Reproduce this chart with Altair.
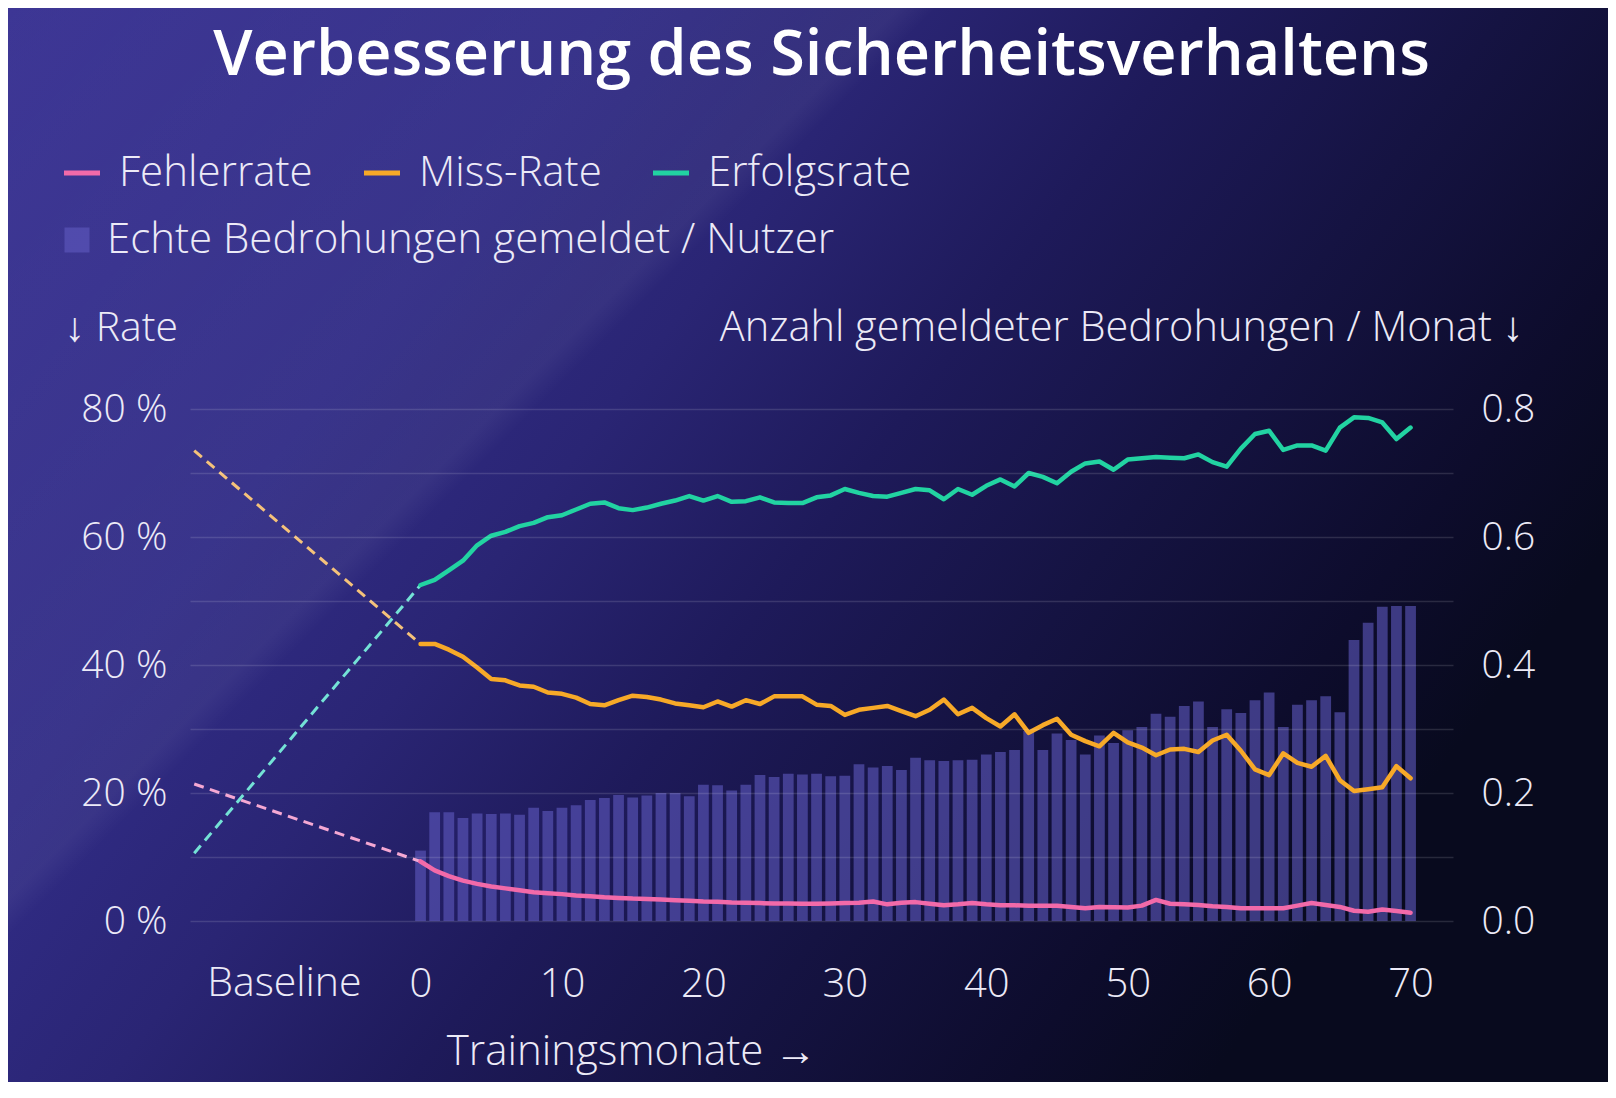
import altair as alt
import pandas as pd

# ---------------- data ----------------
MONTHS = list(range(71))
SERIES = ["Fehlerrate", "Miss-Rate", "Erfolgsrate"]
BAR_LABEL = "Echte Bedrohungen gemeldet / Nutzer"
BASELINE_LABEL = "Baseline"
BASELINE_X = -16
X_TICKS = [0, 10, 20, 30, 40, 50, 60, 70]
LEFT_TICKS = [0, 0.1, 0.2, 0.3, 0.4, 0.5, 0.6, 0.7, 0.8]
RIGHT_TICKS = [0, 0.2, 0.4, 0.6, 0.8]

# rates in percent
FEHLERRATE = [
    9.3, 7.9, 7.0, 6.3, 5.8, 5.4, 5.1, 4.8, 4.5, 4.35,
    4.2, 4.0, 3.85, 3.7, 3.6, 3.5, 3.45, 3.35, 3.25, 3.15,
    3.05, 3.0, 2.9, 2.85, 2.8, 2.75, 2.75, 2.7, 2.7, 2.75,
    2.8, 2.85, 3.05, 2.6, 2.85, 2.95, 2.7, 2.45, 2.6, 2.8,
    2.6, 2.45, 2.45, 2.4, 2.4, 2.4, 2.2, 2.0, 2.2, 2.15,
    2.1, 2.4, 3.3, 2.7, 2.6, 2.5, 2.3, 2.2, 2.0, 2.0,
    2.0, 2.0, 2.4, 2.8, 2.5, 2.2, 1.6, 1.45, 1.8, 1.55,
    1.3]
MISS_RATE = [
    43.3, 43.3, 42.4, 41.3, 39.6, 37.8, 37.6, 36.8, 36.6, 35.7,
    35.5, 34.9, 33.9, 33.7, 34.5, 35.2, 35.0, 34.6, 34.0, 33.7,
    33.4, 34.3, 33.5, 34.5, 33.9, 35.1, 35.1, 35.1, 33.8, 33.6,
    32.2, 33.0, 33.3, 33.6, 32.8, 32.0, 33.0, 34.6, 32.3, 33.3,
    31.7, 30.4, 32.3, 29.4, 30.6, 31.6, 29.1, 28.1, 27.3, 29.4,
    27.9, 27.1, 25.9, 26.8, 26.9, 26.4, 28.2, 29.1, 26.6, 23.7,
    22.8, 26.2, 24.7, 24.1, 25.8, 22.0, 20.3, 20.6, 20.9, 24.2,
    22.3]
ERFOLGSRATE = [
    52.5, 53.3, 54.8, 56.3, 58.7, 60.2, 60.8, 61.7, 62.2, 63.1,
    63.4, 64.3, 65.2, 65.4, 64.5, 64.2, 64.6, 65.2, 65.7, 66.4,
    65.7, 66.4, 65.5, 65.6, 66.2, 65.4, 65.3, 65.3, 66.2, 66.5,
    67.5, 66.9, 66.4, 66.3, 66.9, 67.5, 67.3, 65.9, 67.5, 66.6,
    68.0, 69.0, 67.9, 70.0, 69.4, 68.4, 70.2, 71.5, 71.8, 70.5,
    72.1, 72.3, 72.5, 72.4, 72.3, 72.9, 71.7, 71.0, 73.8, 76.1,
    76.6, 73.6, 74.3, 74.3, 73.5, 77.1, 78.7, 78.6, 77.9, 75.3,
    77.1]
BASELINE_VALUES = [21.4, 73.5, 10.6]   # Fehlerrate, Miss-Rate, Erfolgsrate (%)

# reported threats per user and month
BEDROHUNGEN = [
    0.110, 0.170, 0.170, 0.161, 0.168, 0.167, 0.168, 0.166, 0.177, 0.172,
    0.177, 0.181, 0.189, 0.192, 0.197, 0.193, 0.196, 0.200, 0.200, 0.195,
    0.213, 0.212, 0.204, 0.213, 0.228, 0.225, 0.230, 0.229, 0.230, 0.226,
    0.227, 0.245, 0.240, 0.242, 0.236, 0.255, 0.251, 0.250, 0.251, 0.252,
    0.260, 0.264, 0.267, 0.297, 0.267, 0.293, 0.283, 0.260, 0.290, 0.278,
    0.298, 0.303, 0.324, 0.319, 0.336, 0.343, 0.303, 0.331, 0.325, 0.345,
    0.357, 0.303, 0.338, 0.345, 0.351, 0.326, 0.439, 0.466, 0.491, 0.492,
    0.492]

TITLE = "Verbesserung des Sicherheitsverhaltens"

# ---------------- styling ----------------
SOLID_COLORS = ["#f26aa9", "#f7a928", "#22d3a2"]
DASH_COLORS = ["#f5a8d3", "#f5c27a", "#74e2d6"]
BAR_COLOR = "#5f5ac0"
TEXT = "#eceaf7"
FONT = "Open Sans"

W, H = 1263, 512
PL, PT = 182, 401
CW, CH = 1600, 1074
PR, PB = CW - PL - W, CH - PT - H

BG_GRAD = {
    "gradient": "linear", "x1": 0, "y1": 0, "x2": 1, "y2": 0.5,
    "stops": [
        {"offset": 0.0, "color": "#3b3494"},
        {"offset": 0.3, "color": "#312c86"},
        {"offset": 0.45, "color": "#2a2574"},
        {"offset": 0.6, "color": "#1e1a5a"},
        {"offset": 0.75, "color": "#151342"},
        {"offset": 0.9, "color": "#0d0c2c"},
        {"offset": 1.0, "color": "#080a1e"},
    ],
}
BAND_GRAD = {
    "gradient": "linear", "x1": 0, "y1": 0, "x2": 1, "y2": CH / CW,
    "stops": [
        {"offset": 0.0, "color": "rgba(255,255,255,0.01)"},
        {"offset": 0.34, "color": "rgba(255,255,255,0.045)"},
        {"offset": 0.384, "color": "rgba(255,255,255,0.05)"},
        {"offset": 0.40, "color": "rgba(255,255,255,0)"},
        {"offset": 1.0, "color": "rgba(255,255,255,0)"},
    ],
}

# ---------------- tables ----------------
line_rows = []
for s, vals in zip(SERIES, [FEHLERRATE, MISS_RATE, ERFOLGSRATE]):
    for m, v in zip(MONTHS, vals):
        line_rows.append({"series": s, "month": m, "value": v / 100})
lines_df = pd.DataFrame(line_rows)

dash_dfs = []
for s, b, vals in zip(SERIES, BASELINE_VALUES, [FEHLERRATE, MISS_RATE, ERFOLGSRATE]):
    dash_dfs.append(pd.DataFrame({
        "series": [s, s],
        "month": [BASELINE_X, MONTHS[0]],
        "value": [b / 100, vals[0] / 100],
    }))

bars_df = pd.DataFrame({"month": MONTHS, "reports": BEDROHUNGEN, "key": BAR_LABEL})
one = pd.DataFrame({"t": [TITLE]})
base_df = pd.DataFrame({"x": [BASELINE_X], "label": [BASELINE_LABEL]})

# ---------------- scales / axes ----------------
xscale = alt.Scale(domain=[-16.3, 73.0], nice=False, zero=False)
yscale_l = alt.Scale(domain=[0, 0.8], nice=False)
yscale_r = alt.Scale(domain=[0, 0.8], nice=False)

xaxis = alt.Axis(
    values=X_TICKS, format="d", grid=False, domain=False, ticks=False, tickSize=0,
    labelPadding=63, labelBaseline="middle", labelFont=FONT, labelFontSize=40,
    labelFontWeight=300, labelColor=TEXT, labelFlush=False, labelOverlap=False,
    title="Trainingsmonate →", titleFont=FONT, titleFontSize=42, titleFontWeight=300,
    titleColor=TEXT, titleX=441, titleY=130, titleAlign="center",
    titleBaseline="middle", zindex=1,
)
left_axis = alt.Axis(
    orient="left", values=LEFT_TICKS,
    labelExpr="round(datum.value * 100) % 20 == 0 ? round(datum.value * 100) + ' %' : ''",
    grid=True, gridColor="#ffffff", gridOpacity=0.13, gridWidth=1.5,
    domain=False, ticks=False, tickSize=0, labelPadding=23,
    labelFont=FONT, labelFontSize=39, labelFontWeight=300, labelColor=TEXT,
    title="↓ Rate", titleFont=FONT, titleFontSize=41, titleFontWeight=300,
    titleColor=TEXT, titleAngle=0, titleX=-126, titleY=-81, titleAlign="left",
    titleBaseline="middle", zindex=1,
)
right_axis = alt.Axis(
    orient="right", values=RIGHT_TICKS, format=".1f", grid=False,
    domain=False, ticks=False, tickSize=0, labelPadding=28, labelAlign="left",
    labelFont=FONT, labelFontSize=39, labelFontWeight=300, labelColor=TEXT,
    title="Anzahl gemeldeter Bedrohungen / Monat ↓", titleFont=FONT,
    titleFontSize=41.5, titleFontWeight=300, titleColor=TEXT, titleAngle=0,
    titleX=70, titleY=-81, titleAlign="right", titleBaseline="middle", zindex=1,
)

# ---------------- layers ----------------
bg = alt.Chart(one).mark_rect(fill=BG_GRAD).encode(
    x=alt.value(-PL), x2=alt.value(W + PR), y=alt.value(-PT), y2=alt.value(H + PB))
band = alt.Chart(one).mark_rect(fill=BAND_GRAD).encode(
    x=alt.value(-PL), x2=alt.value(W + PR), y=alt.value(-PT), y2=alt.value(H + PB))

bars = alt.Chart(bars_df).transform_calculate(
    x0="datum.month - 0.38", x1="datum.month + 0.38"
).mark_bar(opacity=0.6).encode(
    x=alt.X("x0:Q", scale=xscale, axis=xaxis),
    x2="x1:Q",
    y=alt.Y("reports:Q", scale=yscale_r, axis=right_axis),
    y2=alt.datum(0),
    fill=alt.Fill("key:N", scale=alt.Scale(domain=[BAR_LABEL], range=[BAR_COLOR]),
                  legend=alt.Legend(
                      title=None, orient="none", legendX=-134, legendY=-190,
                      symbolType="square", symbolSize=625, labelOffset=9,
                      labelFont=FONT, labelFontSize=42, labelFontWeight=300,
                      labelColor=TEXT, labelLimit=1000, padding=0, zindex=1)),
)

solid = alt.Chart(lines_df).mark_line(
    strokeWidth=4.5, strokeCap="round", strokeJoin="round"
).encode(
    x=alt.X("month:Q", scale=xscale, axis=xaxis),
    y=alt.Y("value:Q", scale=yscale_l, axis=left_axis),
    stroke=alt.Stroke("series:N", sort=SERIES,
                      scale=alt.Scale(domain=SERIES, range=SOLID_COLORS),
                      legend=alt.Legend(
                          title=None, orient="none", legendX=-129, legendY=-257,
                          direction="horizontal", symbolType="stroke",
                          symbolSize=1296, symbolStrokeWidth=5, labelOffset=16,
                          columnPadding=41, labelFont=FONT, labelFontSize=42,
                          labelFontWeight=300, labelColor=TEXT, labelLimit=1000,
                          padding=0, zindex=1)),
)

dashed = []
for df, c in zip(dash_dfs, DASH_COLORS):
    dashed.append(alt.Chart(df).mark_line(
        strokeWidth=3, strokeDash=[10, 6.5], color=c
    ).encode(
        x=alt.X("month:Q", scale=xscale, axis=xaxis),
        y=alt.Y("value:Q", scale=yscale_l, axis=left_axis),
    ))

lines_layer = alt.layer(*dashed, solid)

base_text = alt.Chart(base_df).mark_text(
    align="left", baseline="middle", dx=13, font=FONT, fontSize=41,
    fontWeight=300, color=TEXT
).encode(
    x=alt.X("x:Q", scale=xscale, axis=xaxis),
    y=alt.value(575),
    text="label:N",
)

title_text = alt.Chart(one).mark_text(
    align="center", baseline="alphabetic", font=FONT, fontSize=63,
    fontWeight=600, color="#ffffff"
).encode(x=alt.value(W / 2), y=alt.value(67 - PT), text="t:N")

chart = alt.layer(bg, band, bars, lines_layer, base_text, title_text).resolve_scale(
    y="independent"
).properties(
    width=W, height=H,
    padding={"left": PL, "top": PT, "right": PR, "bottom": PB},
    autosize=alt.AutoSizeParams(type="none"),
    background="#1e1a58",
).configure_view(stroke=None)

chart.save("out.html", embed_options={"renderer": "svg", "actions": False})
